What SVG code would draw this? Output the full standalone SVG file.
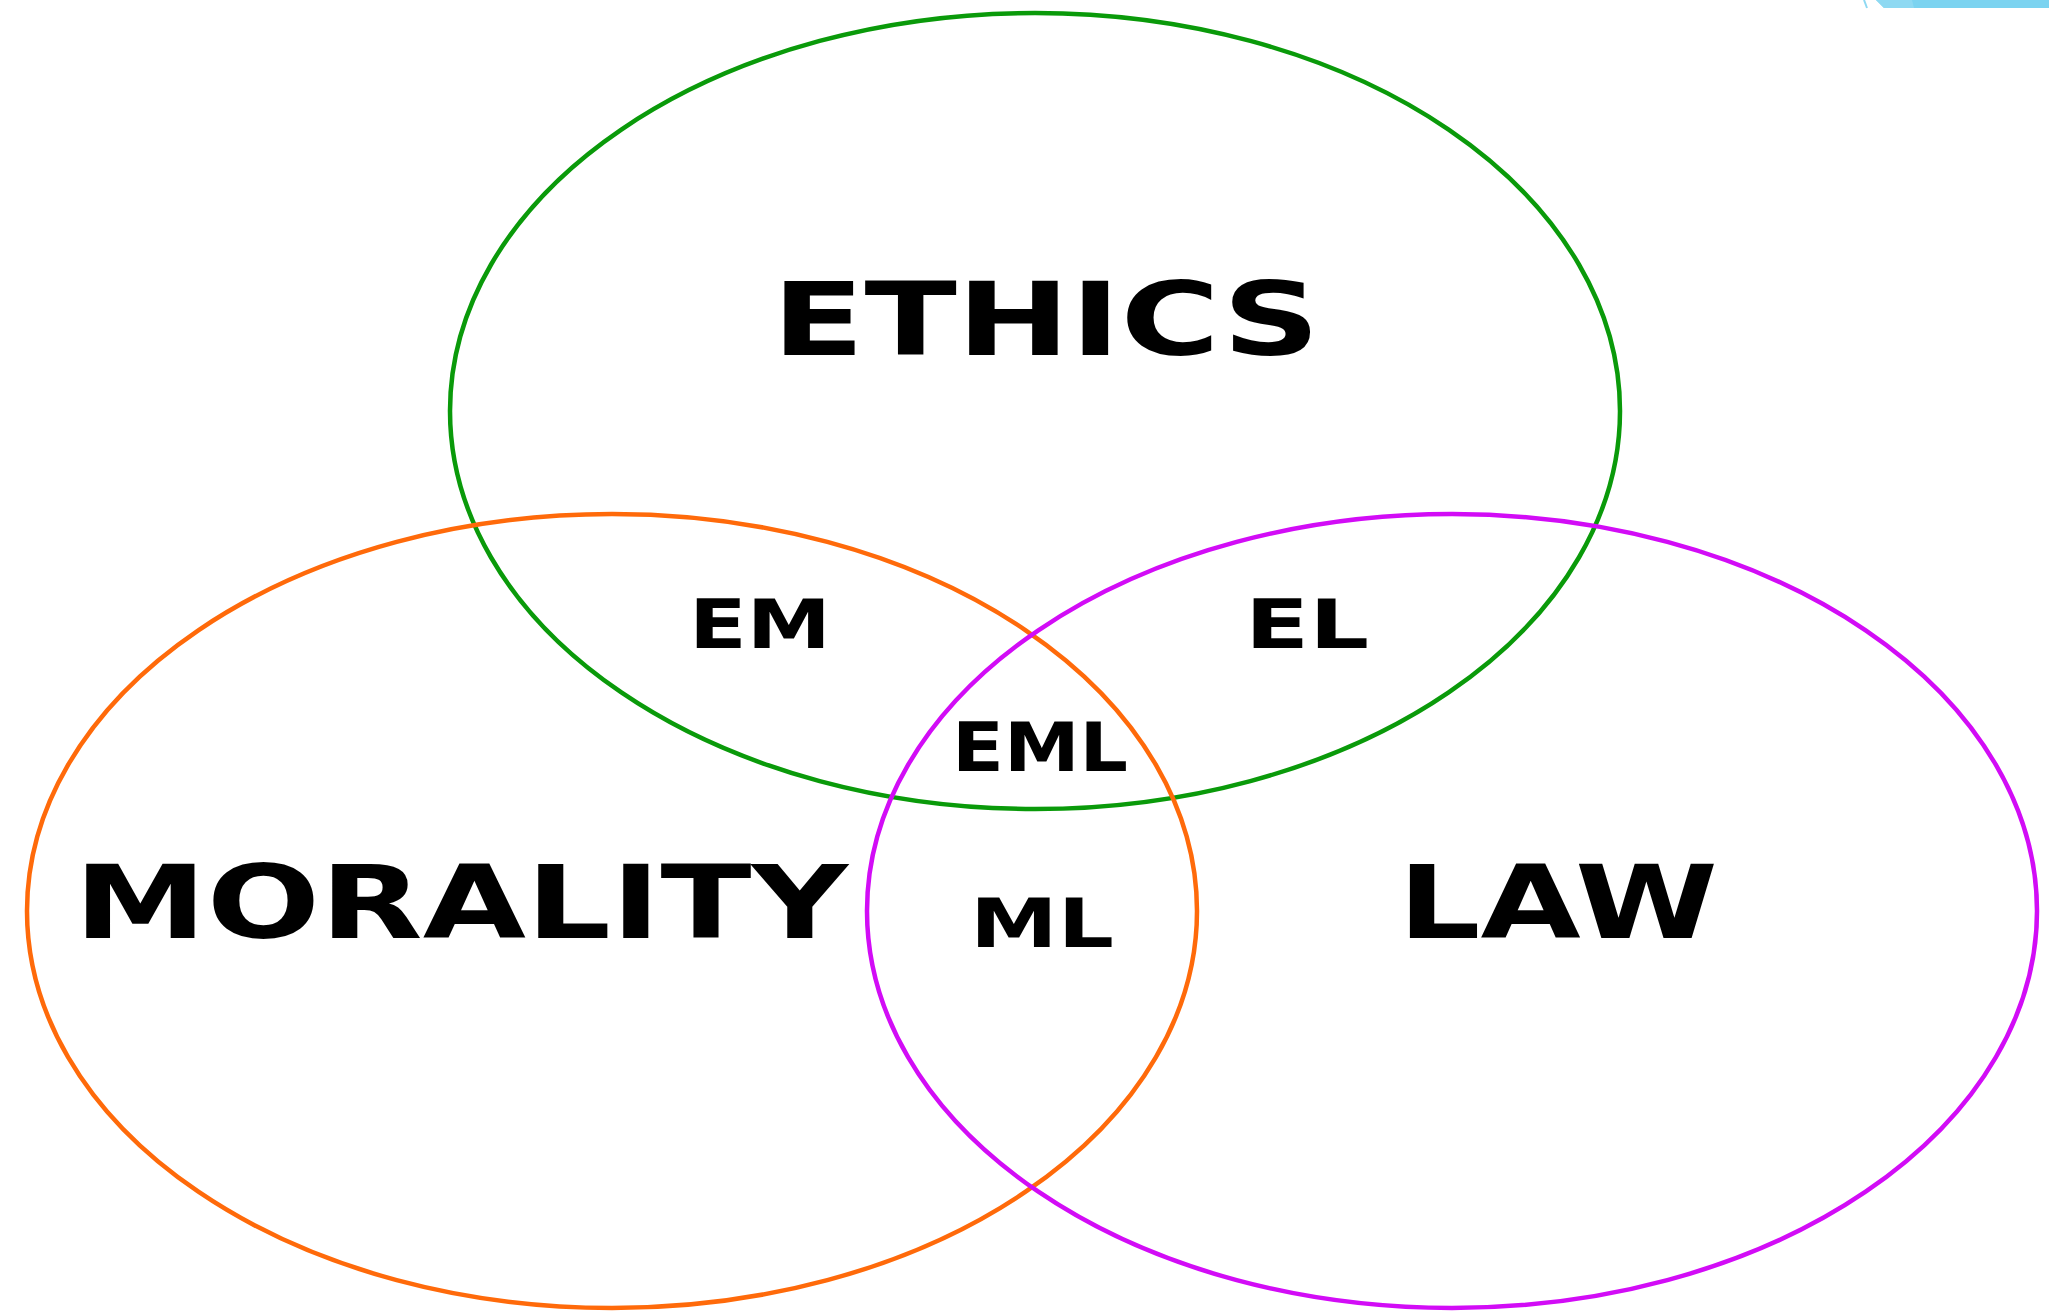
<svg xmlns="http://www.w3.org/2000/svg" width="2049" height="1312" viewBox="0 0 2049 1312">
<style>
.ring{fill:none;stroke-width:4.5}
.big{font-family:"DejaVu Sans","Liberation Sans",sans-serif;font-weight:bold;font-size:102px;fill:#000}
.small{font-family:"DejaVu Sans","Liberation Sans",sans-serif;font-weight:bold;font-size:68px;fill:#000}
</style>
<rect width="2049" height="1312" fill="#fff"/>
<g id="corner">
<polygon points="1876,0 1884,8 2049,8 2049,0" fill="#7bd3f0"/>
<polygon points="1876,0 1884,8 1914,8 1912,0" fill="#8ed9f2"/>
<line x1="1864" y1="0" x2="1867" y2="8" stroke="#8ed9f2" stroke-width="2"/>
</g>
<g id="connectors"></g>
<g id="ethics">
<ellipse class="ring" cx="1035" cy="411" rx="585" ry="398" stroke="#0a9a0a"/>
<text class="big" x="772" y="355" textLength="548" lengthAdjust="spacingAndGlyphs">ETHICS</text>
</g>
<g id="morality">
<ellipse class="ring" cx="612" cy="911" rx="585" ry="397" stroke="#ff6a0a"/>
<text class="big" x="74" y="938" textLength="774" lengthAdjust="spacingAndGlyphs">MORALITY</text>
</g>
<g id="law">
<ellipse class="ring" cx="1452" cy="911" rx="585" ry="397" stroke="#d20cf6"/>
<text class="big" x="1398" y="938" textLength="320" lengthAdjust="spacingAndGlyphs">LAW</text>
</g>
<g id="em"><text class="small" x="689" y="648" textLength="142" lengthAdjust="spacingAndGlyphs">EM</text></g>
<g id="el"><text class="small" x="1245" y="648" textLength="124" lengthAdjust="spacingAndGlyphs">EL</text></g>
<g id="eml"><text class="small" x="952" y="771" textLength="176" lengthAdjust="spacingAndGlyphs">EML</text></g>
<g id="ml"><text class="small" x="970" y="947" textLength="144" lengthAdjust="spacingAndGlyphs">ML</text></g>
</svg>
